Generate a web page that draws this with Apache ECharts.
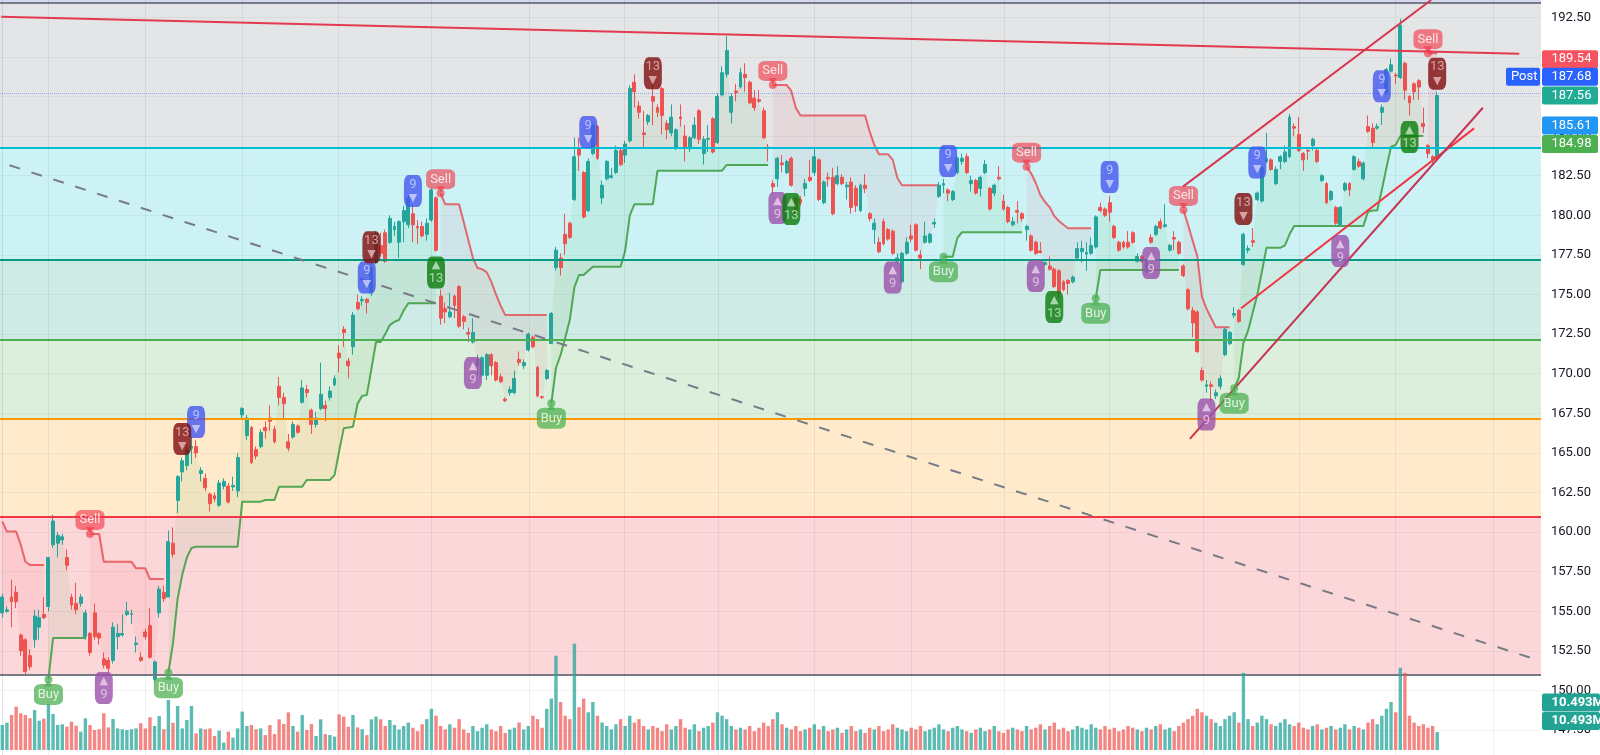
<!DOCTYPE html>
<html><head><meta charset="utf-8">
<script src="https://cdn.jsdelivr.net/npm/echarts/dist/echarts.min.js"></script>
<style>html,body{margin:0;padding:0;background:#fff;}#c{width:1600px;height:755px;}</style>
</head><body><div id="c"></div>
<script>
// ---------------- DATA ----------------
const SLOTS = 334; // candle slots on the time axis (incl. empty right margin)
// [open, close, low, high]
const candles = [
[154.9,155.9,154.6,156.1],[155.0,155.1,154.9,155.3],[155.9,155.6,154.0,157.0],[156.2,155.6,155.2,156.6],[153.5,152.5,152.2,153.6],[153.2,151.2,150.9,153.3],[152.2,151.5,151.3,152.6],[153.2,154.7,152.7,155.1],[154.0,154.6,153.2,155.1],[154.8,154.6,154.5,155.9],
[155.3,158.4,155.0,158.4],[159.2,160.7,159.0,161.1],[159.3,159.8,158.4,160.0],[159.5,159.7,159.2,159.9],[158.4,157.9,157.6,158.9],[155.9,155.4,155.1,156.1],[155.5,155.1,154.8,156.8],[155.5,155.9,155.3,156.1],[153.4,154.9,153.2,155.1],[153.6,152.4,152.2,153.7],
[154.9,153.4,153.2,155.5],[153.6,153.3,152.9,153.7],[152.0,151.6,151.4,152.4],[151.9,151.4,151.1,152.1],[151.9,154.0,151.7,154.3],[153.4,153.6,152.6,154.2],[153.5,153.6,153.4,154.8],[154.8,155.0,154.7,155.6],[154.8,154.85,154.2,155.1],[152.9,153.0,152.4,153.4],
[152.1,151.9,151.8,152.4],[153.7,153.4,153.2,153.9],[154.1,152.1,152.0,155.2],[150.7,151.8,150.5,151.9],[154.9,156.4,154.6,156.6],[156.2,155.8,155.6,156.6],[155.9,159.4,155.9,160.1],[159.3,158.6,158.4,160.3],[162.0,163.5,161.2,163.6],[163.8,164.5,163.2,164.7],
[164.2,165.2,163.9,165.5],[165.3,165.4,164.3,166.0],[165.4,165.0,164.7,165.8],[163.7,163.9,163.2,164.1],[163.4,162.8,162.6,163.7],[162.4,161.8,161.3,162.5],[162.3,162.1,161.9,162.5],[161.7,163.1,161.6,163.3],[162.9,163.2,162.7,163.4],[162.9,161.9,161.8,163.1],
[162.85,162.95,162.6,163.5],[162.6,164.7,162.2,165.0],[167.4,167.8,167.2,167.9],[166.1,167.2,165.8,167.4],[166.6,164.4,164.3,166.7],[165.2,164.8,164.6,165.4],[165.4,166.3,165.3,166.5],[166.6,166.4,165.9,167.0],[167.2,167.0,166.4,168.0],[166.5,165.7,165.6,166.7],
[169.2,168.5,168.0,169.8],[168.5,168.1,167.2,168.8],[165.7,165.3,165.1,166.2],[166.0,166.8,165.9,167.0],[166.7,166.3,166.2,166.8],[168.2,169.1,168.1,169.6],[169.0,168.8,168.5,169.3],[167.7,166.8,166.2,167.8],[166.8,167.2,166.6,167.6],[167.8,168.7,167.7,170.7],
[168.0,167.8,167.0,168.3],[168.5,168.9,168.3,169.2],[169.3,169.7,169.2,169.9],[171.3,171.0,170.1,171.8],[172.8,172.6,171.7,173.0],[170.8,170.5,169.7,171.0],[171.7,173.7,171.2,173.9],[174.5,174.1,174.0,175.0],[174.6,174.7,174.3,174.9],[174.7,174.5,173.8,174.8],
[175.1,176.7,174.9,177.0],[177.0,178.8,176.9,179.0],[178.1,177.6,177.4,178.9],[178.9,177.1,177.0,179.1],[178.3,179.8,178.2,180.0],[179.1,179.3,178.7,179.6],[178.3,179.6,177.3,179.7],[179.6,180.3,178.3,180.6],[179.4,181.1,179.2,181.3],[180.1,179.4,178.3,180.7],
[179.3,179.2,178.2,179.7],[179.3,178.7,178.6,179.6],[178.8,179.5,178.4,179.8],[179.7,181.6,179.6,181.7],[181.1,177.8,177.7,181.2],[174.9,173.5,173.1,175.3],[174.1,173.9,173.2,174.5],[173.6,173.9,173.5,175.1],[174.9,174.3,173.5,175.0],[175.5,173.0,172.9,175.6],
[173.6,173.3,172.8,173.7],[172.6,172.5,172.0,172.9],[172.0,172.6,171.9,173.5],[170.5,170.9,169.9,171.2],[169.9,171.0,169.8,171.1],[169.9,171.2,169.6,171.3],[171.2,170.5,169.9,171.3],[170.7,169.6,169.5,170.8],[169.8,169.5,169.4,170.0],[168.4,168.3,168.2,168.5],
[168.8,169.0,168.6,169.2],[168.8,169.7,168.7,170.2],[170.9,170.7,170.5,171.4],[170.5,170.7,170.3,170.9],[171.5,172.5,171.4,172.6],[172.3,171.7,171.6,172.4],[170.4,168.6,168.5,170.5],[168.55,168.5,168.4,168.6],[169.7,170.2,169.6,170.3],[171.9,173.8,171.9,173.9],
[176.7,177.8,176.5,178.0],[177.3,176.7,176.2,177.6],[178.8,178.2,177.5,180.1],[179.5,178.6,178.5,179.6],[181.0,183.7,180.9,184.9],[184.2,183.8,182.8,184.9],[182.7,179.9,179.8,182.8],[180.3,183.4,180.2,183.6],[183.9,185.7,183.8,185.8],[185.6,183.6,183.5,185.7],
[181.1,181.9,180.7,182.2],[182.3,183.4,182.2,183.5],[182.4,182.5,182.3,183.0],[182.7,184.1,182.6,184.4],[184.1,183.2,183.1,184.3],[183.8,184.5,183.3,184.7],[184.7,188.0,184.6,188.2],[188.4,187.8,186.8,188.9],[186.9,186.5,186.1,187.2],[185.2,185.1,184.2,186.6],
[185.9,186.3,185.7,186.4],[187.5,187.2,185.7,188.3],[186.8,186.5,186.2,187.0],[188.0,186.3,185.1,188.1],[185.8,185.4,184.8,186.0],[185.2,186.2,185.0,187.0],[184.3,185.4,184.1,185.5],[186.2,186.1,185.6,187.0],[185.0,184.3,183.4,185.7],[184.2,184.9,184.0,185.0],
[184.9,185.7,184.8,186.2],[186.6,184.8,184.5,186.7],[183.9,184.8,183.2,185.0],[184.8,184.85,184.0,185.7],[186.1,184.0,183.9,186.2],[184.6,187.5,184.5,187.7],[187.6,189.0,187.5,189.4],[188.9,190.4,188.7,191.3],[186.5,187.5,185.8,187.7],[187.85,187.75,187.2,188.3],
[188.1,189.0,188.0,189.3],[188.9,188.7,187.8,189.6],[188.4,187.1,187.0,188.5],[187.4,186.8,186.6,187.9],[187.3,187.2,187.1,187.9],[186.6,184.9,184.8,186.8],[184.3,184.25,183.4,184.5],[182.0,181.8,181.3,182.2],[182.3,183.6,181.8,183.7],[183.3,183.2,182.7,183.8],
[182.7,183.4,182.6,183.5],[183.6,181.9,181.8,183.7],[181.1,180.1,180.0,181.2],[181.0,180.8,180.6,181.2],[181.7,182.0,181.2,182.3],[182.4,182.2,182.1,183.5],[182.7,183.7,182.5,184.2],[183.5,181.0,180.9,183.6],[180.8,182.1,180.7,182.2],[182.4,182.3,181.8,182.7],
[182.4,180.1,180.0,183.0],[182.0,182.5,181.9,183.1],[182.4,182.0,181.9,182.6],[181.8,181.9,181.0,182.1],[182.1,180.5,180.1,182.4],[181.7,180.6,180.2,181.9],[180.3,181.9,180.2,182.0],[181.9,181.7,181.4,182.6],[180.1,179.8,179.6,180.2],[179.1,179.5,178.2,179.8],
[178.3,177.7,177.6,178.6],[179.6,178.2,178.1,179.8],[179.1,178.5,178.4,179.2],[179.0,177.6,177.5,179.1],[177.1,177.3,176.9,177.6],[175.8,177.6,175.7,177.7],[177.6,178.3,177.5,178.6],[178.7,178.5,178.3,179.4],[179.4,177.8,177.7,179.5],[177.5,177.3,176.6,177.8],
[178.3,178.7,178.2,179.6],[178.3,178.8,178.2,178.9],[179.45,179.55,179.2,179.8],[181.2,181.9,181.1,182.1],[181.9,182.0,181.4,182.3],[181.6,181.4,180.9,181.7],[181.0,181.5,180.9,181.6],[182.7,183.6,182.6,183.7],[183.4,183.6,183.2,183.9],[183.7,182.7,182.6,183.9],
[182.0,182.2,181.5,182.5],[182.2,181.4,181.3,182.3],[181.7,182.4,181.2,182.5],[182.7,183.2,182.6,183.5],[181.7,180.4,180.3,181.8],[181.4,181.9,181.2,182.0],[182.4,182.3,182.2,183.1],[180.9,180.4,180.3,181.3],[180.5,179.6,179.5,180.6],[179.4,179.6,179.3,179.9],
[180.3,180.2,179.5,180.9],[180.1,179.8,179.6,180.2],[179.1,179.3,178.4,179.4],[178.7,177.8,177.7,178.8],[178.3,177.6,177.5,178.4],[177.75,177.65,177.6,178.3],[176.9,177.0,176.8,177.1],[176.8,176.6,176.5,177.4],[176.6,175.5,175.4,176.7],[176.5,175.1,174.8,176.6],
[175.8,175.3,175.2,175.9],[175.9,175.7,175.0,175.95],[175.8,176.1,175.7,176.2],[177.3,177.9,177.2,178.3],[177.7,177.9,177.0,178.4],[177.55,177.65,176.5,178.3],[177.6,178.1,177.5,178.6],[178.0,179.9,177.9,180.0],[180.5,180.3,180.2,180.8],[180.4,180.0,179.9,180.5],
[180.8,180.2,179.6,181.2],[179.3,178.6,178.5,179.4],[178.3,177.8,177.7,178.4],[178.3,178.0,177.9,178.4],[178.3,178.0,177.9,179.0],[178.9,178.3,178.2,179.0],[177.1,177.4,177.0,177.6],[177.4,177.1,177.0,177.5],[176.4,177.2,176.3,177.3],[178.6,178.3,178.2,178.8],
[178.8,179.3,178.7,179.4],[179.6,179.2,179.1,179.8],[179.3,179.4,179.2,180.7],[177.8,178.1,177.7,178.2],[178.6,178.5,177.8,179.0],[178.3,177.6,177.5,178.4],[176.8,176.2,176.1,176.9],[175.3,174.1,174.0,175.4],[174.0,173.2,172.3,174.2],[173.9,171.4,171.3,174.0],
[170.2,169.6,169.5,170.4],[169.2,169.3,168.8,169.6],[169.3,169.2,168.3,169.5],[168.6,168.8,168.4,169.0],[169.2,169.7,169.0,169.9],[171.2,172.8,171.1,172.9],[171.9,172.6,171.8,172.7],[173.7,173.8,173.5,174.2],[174.0,173.3,173.2,174.1],[176.9,178.8,176.8,178.9],
[177.8,177.9,177.6,178.1],[178.4,178.3,178.0,179.2],[181.0,181.4,180.9,181.5],[180.9,183.0,180.8,183.2],[183.4,183.6,183.3,185.2],[183.5,182.9,182.8,183.6],[182.0,182.9,181.9,183.1],[183.4,183.7,182.9,183.8],[183.4,184.0,183.3,184.4],[183.7,186.2,183.6,186.4],
[185.6,185.5,185.0,185.8],[185.1,184.1,184.0,186.2],[183.9,183.5,182.8,184.0],[184.1,184.05,183.5,184.3],[184.4,184.8,184.1,184.9],[184.1,183.4,183.3,184.2],[182.2,182.5,182.1,182.6],[182.0,180.8,180.7,182.1],[181.0,181.5,180.9,181.6],[180.5,179.5,179.4,180.6],
[179.4,180.5,179.3,180.6],[181.6,182.0,181.5,182.1],[182.0,181.6,181.2,182.1],[182.9,183.7,182.8,183.8],[183.4,183.1,183.0,183.6],[182.3,183.3,182.2,183.4],[185.6,185.3,185.2,186.3],[185.5,184.6,184.3,185.8],[185.5,185.6,185.4,185.8],[186.5,186.8,185.7,187.0],
[187.7,189.2,187.6,189.3],[189.1,189.5,189.0,189.9],[188.85,188.8,188.3,189.0],[188.7,192.0,188.6,192.4],[189.6,187.9,187.3,189.7],[187.5,187.1,186.3,187.6],[188.3,187.8,187.3,188.4],[188.5,188.1,187.3,188.6],[185.8,185.6,185.2,186.8],[184.4,183.9,183.6,184.5],
[183.7,183.5,183.3,183.8],[183.7,187.56,183.6,187.8]
];
// volume, millions
const volumes = [
14.6,15.9,20.4,25.3,21.4,20.4,18.5,23.3,17.1,18.3,
26.8,21.0,14.6,15.0,13.6,16.5,14.2,10.7,18.5,14.6,
11.7,12.1,21.4,13.2,18.1,12.6,12.1,11.7,12.1,12.6,
15.6,12.6,19.1,14.0,19.8,12.1,29.2,15.9,25.7,12.6,
17.5,25.7,9.7,12.6,12.1,12.6,8.2,11.3,4.3,10.7,
7.2,12.6,22.4,14.0,14.6,12.1,12.6,8.7,14.6,9.3,
17.9,15.2,22.0,14.0,10.7,20.4,11.7,15.2,8.2,17.9,
9.3,8.7,7.8,20.8,19.4,13.6,20.4,13.2,12.1,8.7,
17.9,19.4,17.9,14.0,17.5,14.6,
12,14,16,13,11,15,18,24,20,14,12,15,13,18,
12,10,14,11,13,15,12,11,14,10,12,13,16,12,14,20,18,13,24,30,
55,28,20,18,62,25,30,22,28,20,16,14,12,15,18,14,20,16,18,14,
12,14,13,11,15,12,14,18,13,12,15,11,13,14,16,22,20,18,14,12,
13,12,14,11,13,16,14,18,22,15,13,12,14,11,12,13,15,12,14,11,
12,13,10,12,14,11,12,10,13,12,14,11,12,15,13,12,11,13,12,14,
11,12,13,15,12,11,13,14,12,11,10,12,13,11,12,14,11,10,12,13,
12,11,14,12,13,15,12,14,16,12,13,11,12,14,13,12,15,13,12,14,
12,13,11,12,14,13,12,11,13,12,14,15,12,13,11,14,16,18,20,24,
22,20,18,16,14,18,20,22,16,45,18,14,16,20,18,15,14,16,18,15,
14,16,13,12,14,15,12,13,14,12,13,15,12,14,13,12,16,18,15,20,
24,28,22,48,45,20,16,14,15,13,14,10.493
];
// Supertrend: [first candle index, values...]
const stDown = [
 [0,[160.66,160.03,160.03,160.03,159.2,158.13,157.92,157.92,157.92,157.92]],
 [19,[159.88,159.88,159.88,158.13,158.13,158.13,158.13,158.13,158.13,158.13,157.71,157.71,157.71,157.04,157.04,157.04,157.04]],
 [95,[181.39,180.69,180.69,180.69,180.69,179.6,178.44,177.3,176.67,176.6,176.4,175.8,175.0,174.3,173.71,173.71,173.71,173.71,173.71,173.71,173.71,173.71,173.71,173.71]],
 [167,[188.23,188.23,188.23,188.23,187.85,186.77,186.3,186.3,186.3,186.3,186.3,186.3,186.3,186.3,186.3,186.3,186.3,186.3,186.3,186.3,186.3,185.28,184.44,183.85,183.85,183.85,183.5,182.35,181.9,181.9,181.9,181.9,181.9,181.9,181.9,181.9,181.9]],
 [222,[183.07,182.65,182.04,181.28,180.84,180.52,179.96,179.64,179.4,179.18,179.18,179.18,179.18,179.18,179.18]],
 [256,[180.33,179.4,178.4,177.43,174.86,174.1,173.52,172.93,172.93,172.93,172.93]],
 [309,[190.23,190.23,190.23]]
];
const stUp = [
 [10,[150.7,153.31,153.31,153.31,153.31,153.31,153.31,153.31,153.31]],
 [36,[151.12,153.0,155.8,157.3,158.4,159.0,159.08,159.08,159.08,159.08,159.08,159.08,159.08,159.08,159.08,159.08,161.92,161.92,161.92,161.92,161.92,162.03,162.03,162.03,162.87,162.87,162.87,162.87,162.87,162.87,163.29,163.29,163.29,163.29,163.29,163.29,163.6,165.1,166.55,166.6,166.65,168.1,168.6,168.65,170.3,172.0,172.0,172.5,173.07,173.28,173.4,174.0,174.45,174.45,174.45,174.45,174.45,174.45,174.45]],
 [119,[168.13,170.36,171.18,172.25,173.4,175.47,176.23,176.23,176.5,176.75,176.75,176.75,176.75,176.75,176.75,176.75,177.75,180.0,180.69,180.69,180.69,180.69,180.69,182.82,182.82,182.82,182.82,182.82,182.82,182.82,182.82,182.82,182.82,182.82,182.82,182.82,182.82,182.82,183.18,183.18,183.18,183.18,183.18,183.18,183.18,183.18,183.18,183.18]],
 [204,[177.39,177.39,177.39,178.57,178.93,178.93,178.93,178.93,178.93,178.93,178.93,178.93,178.93,178.93,178.93,178.93,178.93,178.93]],
 [237,[174.76,176.55,176.55,176.55,176.55,176.55,176.55,176.55,176.55,176.55,176.55,176.55,176.55,176.55,176.55,176.55,176.55,176.55,176.55]],
 [267,[169.08,169.73,171.94,172.7,173.83,174.97,176.42,177.95,177.95,177.95,177.95,178.1,178.8,179.32,179.32,179.32,179.32,179.32,179.32,179.32,179.32,179.32,179.32,179.32,179.32,179.32,179.32,179.32,179.32,180.23,180.3,180.3,181.6,183.0,184.33,184.44,185.0,185.0,185.0,185.0,185.0,185.0]]
];
// TD sequential markers: [candle index, price at box centre]
const tdSell9  = [[42,166.95],[79,176.07],[89,181.53],[127,185.26],[205,183.43],[240,182.42],[272,183.33],[299,188.14]];
const tdSell13 = [[39,165.88],[80,177.99],[141,188.96],[269,180.4],[311,188.94]];
const tdBuy9   = [[22,150.16],[102,170.04],[168,180.46],[193,176.07],[224,176.17],[249,176.99],[261,167.42],[290,177.75]];
const tdBuy13  = [[94,176.39],[171,180.4],[228,174.21],[305,184.94]];
// Fibonacci-style horizontal levels (top to bottom)
const levels = [193.4,184.27,177.18,172.17,167.14,160.97,150.98];
const postPrice = 187.68;
// drawn trendlines: [[index, price],[index, price]]
const trendTop     = [[-0.22,192.54],[328.8,190.2]];
const trendDashed  = [[1.56,183.16],[331.5,152.04]];
const channelUpper = [[255.9,181.81],[309.7,193.59]];
const channelMid   = [[268.5,174.13],[319.0,185.49]];
const channelLow   = [[257.4,165.89],[320.9,186.79]];
// time-axis gridline positions (candle index)
const timeTicks = [9.9,31.0,52.0,72.9,93.0,114.3,134.9,155.1,176.0,197.0,217.1,240.0,260.2,281.0,302.0,323.1];
// right-axis price tags
const tagValues = [189.54,187.68,187.56,185.61,184.98];
const volTag = 10.493;

// ---------------- BUILD ----------------
const FONT = 'Roboto, "Liberation Sans", sans-serif';
const GRID_W = 1541;
const UP = '#26a69a', DN = '#ef5350';
const cats = Array.from({length: SLOTS}, (_, i) => String(i));
const mid = candles.map(c => (c[0] + c[1]) / 2);
function expand(segs) {
  const a = new Array(candles.length).fill(null);
  segs.forEach(([s, vals]) => vals.forEach((v, k) => { a[s + k] = v; }));
  return a;
}
const redLine = expand(stDown), greenLine = expand(stUp);
const greenDiff = greenLine.map((v, i) => v == null ? null : mid[i] - v);
const redBase = redLine.map((v, i) => v == null ? null : mid[i]);
const redDiff = redLine.map((v, i) => v == null ? null : v - mid[i]);
const sellPts = stDown.filter(s => s[0] > 0).map(s => [s[0], s[1][0]]);
const buyPts = stUp.map(s => [s[0], s[1][0]]);

const bandColors = ['rgba(120,123,134,0.2)','rgba(0,188,212,0.2)','rgba(8,153,129,0.2)','rgba(76,175,80,0.2)','rgba(255,152,0,0.2)','rgba(242,54,69,0.2)'];
const levelColors = ['#787b86','#00bcd4','#089981','#4caf50','#ff9800','#f23645','#787b86'];
const bandData = [[{yAxis: levels[0] + 1, itemStyle:{color:'rgba(63,81,181,0.22)'}}, {yAxis: levels[0]}]];
for (let k = 0; k < levels.length - 1; k++) bandData.push([{yAxis: levels[k], itemStyle:{color: bandColors[k]}}, {yAxis: levels[k + 1]}]);
const levelLines = levels.map((v, k) => ({yAxis: v, lineStyle:{color: levelColors[k], width: 2, type:'solid'}}));
levelLines.push({yAxis: postPrice, lineStyle:{color:'rgba(41,98,255,0.45)', width:1, type:'dotted'}});
const vLines = timeTicks.map(t => ({xAxis: t, lineStyle:{color:'rgba(42,46,57,0.07)', width:1, type:'solid'}}));

function tdSeries(data, color, txtColor, num, up) {
  return {
    type:'scatter', xAxisIndex:0, yAxisIndex:0, z:8, data,
    symbol:'roundRect', symbolSize:[18, 32],
    itemStyle:{color},
    label:{show:true, position:'inside',
      formatter: up ? '{t|▲}\n{n|' + num + '}' : '{n|' + num + '}\n{t|▼}',
      rich:{ n:{color:txtColor, fontSize:13, lineHeight:14, fontFamily:FONT},
             t:{color:txtColor, fontSize:11, lineHeight:13, fontFamily:'DejaVu Sans'} }}
  };
}
function lineSeg(pts, color, width, type) {
  return {type:'line', xAxisIndex:1, yAxisIndex:0, z:6, data:pts, symbol:'none', silent:true,
          lineStyle:{color, width, type: type || 'solid'}};
}

const series = [
  {type:'line', xAxisIndex:1, yAxisIndex:0, z:1, data:[], silent:true,
   markArea:{silent:true, data: bandData},
   markLine:{silent:true, symbol:'none', label:{show:false}, data: levelLines.concat(vLines)}},
  // supertrend fills
  {type:'line', xAxisIndex:0, yAxisIndex:0, z:2, data: greenLine, stack:'g', stackStrategy:'all', symbol:'none', lineStyle:{opacity:0}, silent:true},
  {type:'line', xAxisIndex:0, yAxisIndex:0, z:2, data: greenDiff, stack:'g', stackStrategy:'all', symbol:'none', lineStyle:{opacity:0}, areaStyle:{color:'rgba(76,175,80,0.13)'}, silent:true},
  {type:'line', xAxisIndex:0, yAxisIndex:0, z:2, data: redBase, stack:'r', stackStrategy:'all', symbol:'none', lineStyle:{opacity:0}, silent:true},
  {type:'line', xAxisIndex:0, yAxisIndex:0, z:2, data: redDiff, stack:'r', stackStrategy:'all', symbol:'none', lineStyle:{opacity:0}, areaStyle:{color:'rgba(242,54,69,0.10)'}, silent:true},
  // supertrend lines
  {type:'line', xAxisIndex:0, yAxisIndex:0, z:3, data: greenLine, symbol:'none', lineStyle:{color:'#43a047', width:2, opacity:0.9}, silent:true},
  {type:'line', xAxisIndex:0, yAxisIndex:0, z:3, data: redLine, symbol:'none', lineStyle:{color:'#e5484f', width:2, opacity:0.8}, silent:true},
  lineSeg(trendDashed, '#787b86', 2, [11, 12]),
  // candles
  {type:'candlestick', xAxisIndex:0, yAxisIndex:0, z:4, data: candles, barWidth:3.4,
   itemStyle:{color:UP, color0:DN, borderColor:UP, borderColor0:DN, borderWidth:1}},
  lineSeg(trendTop, '#e33a4f', 2),
  lineSeg(channelUpper, '#d9364f', 2),
  lineSeg(channelMid, '#f23645', 2),
  lineSeg(channelLow, '#c73452', 2),
  // TD sequential
  tdSeries(tdSell9, '#4556f0', '#cfd3ff', '9', false),
  tdSeries(tdSell13, '#7f0b0b', '#e6bcbc', '13', false),
  tdSeries(tdBuy9, '#9b50aa', '#ecd3f0', '9', true),
  tdSeries(tdBuy13, '#097a09', '#c6e8c6', '13', true),
  // buy / sell markers
  {type:'scatter', xAxisIndex:0, yAxisIndex:0, z:9, data: sellPts, symbol:'circle', symbolSize:8, itemStyle:{color:'rgba(242,54,69,0.8)'}},
  {type:'scatter', xAxisIndex:0, yAxisIndex:0, z:9, data: sellPts, symbol:'triangle', symbolRotate:180, symbolSize:[9,6], symbolOffset:[0,-4], itemStyle:{color:'rgba(242,54,69,0.8)'}},
  {type:'scatter', xAxisIndex:0, yAxisIndex:0, z:9, data: sellPts, symbol:'roundRect', symbolSize:[29,20], symbolOffset:[0,-14], itemStyle:{color:'rgba(242,54,69,0.78)'},
   label:{show:true, position:'inside', formatter:'Sell', color:'#fff', fontSize:13, fontFamily:FONT}},
  {type:'scatter', xAxisIndex:0, yAxisIndex:0, z:9, data: buyPts, symbol:'circle', symbolSize:8, itemStyle:{color:'rgba(76,175,80,0.9)'}},
  {type:'scatter', xAxisIndex:0, yAxisIndex:0, z:9, data: buyPts, symbol:'triangle', symbolSize:[9,6], symbolOffset:[0,4], itemStyle:{color:'rgba(76,175,80,0.9)'}},
  {type:'scatter', xAxisIndex:0, yAxisIndex:0, z:9, data: buyPts, symbol:'roundRect', symbolSize:[29,21], symbolOffset:[0,15], itemStyle:{color:'rgba(76,175,80,0.92)'},
   label:{show:true, position:'inside', formatter:'Buy', color:'#fff', fontSize:13, fontFamily:FONT}},
  // volume
  {type:'bar', xAxisIndex:2, yAxisIndex:1, z:5, barWidth:3.4, silent:true,
   data: volumes.map((v, i) => ({value: v, itemStyle:{color: candles[i][1] >= candles[i][0] ? 'rgba(38,166,154,0.75)' : 'rgba(239,83,80,0.7)'}}))}
];

const chart = echarts.init(document.getElementById('c'), null, {width:1600, height:755});
chart.setOption({
  animation:false,
  backgroundColor:'#ffffff',
  grid:[
    {left:0, top:-22.3, width:GRID_W, height:792, containLabel:false, outerBoundsMode:'none'},
    {left:0, top:630, width:GRID_W, height:120, containLabel:false, outerBoundsMode:'none'}
  ],
  xAxis:[
    {type:'category', gridIndex:0, data:cats, boundaryGap:true, show:false},
    {type:'value', gridIndex:0, min:-0.5, max:SLOTS - 0.5, show:false, splitLine:{show:false}},
    {type:'category', gridIndex:1, data:cats, boundaryGap:true, show:false}
  ],
  yAxis:[
    {type:'value', gridIndex:0, position:'right', min:145, max:195, interval:2.5, scale:false,
     axisLine:{show:true, lineStyle:{color:'#e0e3eb', width:1}}, axisTick:{show:false},
     axisLabel:{color:'#131722', fontSize:13, fontFamily:FONT, margin:10, formatter: v => v.toFixed(2)},
     splitLine:{show:true, lineStyle:{color:'rgba(42,46,57,0.06)', width:1}}},
    {type:'value', gridIndex:1, min:0, max:70, show:false, splitLine:{show:false}}
  ],
  series
});

// price tags on the axis (positions from the axis scale, nudged apart like the reference)
const tagBg = ['#f7525f','#2962ff','#22ab94','#2196f3','#4caf50'];
const tagNudge = [-5,-17,0,-1,7.5];
const graphics = [];
function tag(yc, text, bg, x, w, bold, pad) {
  graphics.push({type:'rect', z:100, shape:{x:x, y:yc - 9, width:w, height:18, r:2}, style:{fill:bg}});
  graphics.push({type:'text', z:101, style:{legacy:false, text:text, x:x + pad, y:yc, fill:'#ffffff',
    font:(bold ? 'bold ' : '') + '13px ' + FONT, align:'left', verticalAlign:'middle'}});
}
tagValues.forEach((v, k) => {
  const y = chart.convertToPixel({yAxisIndex:0}, v) + tagNudge[k];
  tag(y, v.toFixed(2), tagBg[k], 1542, 56, false, 9.5);
  if (v === postPrice) tag(y, 'Post', '#2962ff', 1506, 34, false, 5);
});
const vy = chart.convertToPixel({yAxisIndex:1}, volTag);
tag(vy - 29.5, volTag.toFixed(3) + 'M', '#22a393', 1542, 58, true, 9.5);
tag(vy - 11, volTag.toFixed(3) + 'M', '#22a393', 1542, 58, true, 9.5);
chart.setOption({graphic: graphics});
</script>
</body></html>
